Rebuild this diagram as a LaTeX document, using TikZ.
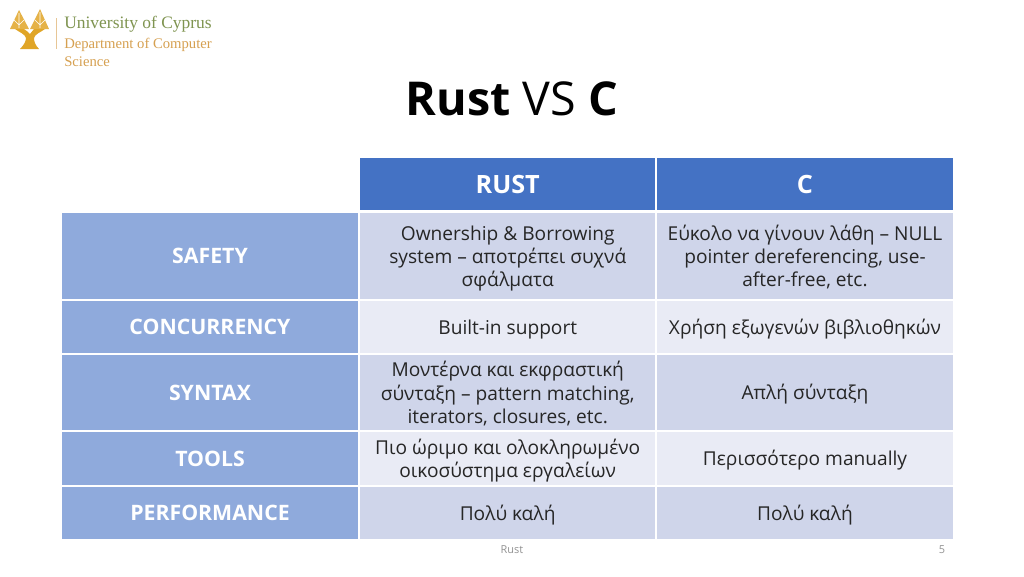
\documentclass[tikz,border=0pt]{standalone}
\usepackage{fontspec}
\setmainfont{Open Sans}
\newfontfamily\logofont{Liberation Serif}
\definecolor{hdr}{HTML}{4472C4}
\definecolor{side}{HTML}{8FAADC}
\definecolor{cellA}{HTML}{CFD5EA}
\definecolor{cellB}{HTML}{E9EBF5}
\definecolor{logoG}{HTML}{7F9450}
\definecolor{logoO}{HTML}{D6A050}
\definecolor{tree}{HTML}{E0A526}
\definecolor{ink}{HTML}{262626}
\newcommand{\mlines}[1]{\raisebox{-2.2pt}[\height][\depth]{\begin{tabular}{@{}c@{}}#1\end{tabular}}}
\tikzset{
 x=0.75pt,y=-0.75pt,
 cellbase/.style={anchor=north west,inner sep=0pt,outer sep=0pt,align=center,font=\fontsize{14.35}{17.3}\selectfont,text=ink},
 cellbox/.style={cellbase,execute at begin node={\rule{0pt}{14.2pt}}},
 multi/.style={cellbase},
 hdrcell/.style={cellbase,fill=hdr,text=white,font=\fontsize{18.9}{22}\selectfont\bfseries,minimum height=39pt,execute at begin node={\rule{0pt}{14.5pt}}},
 sidecell/.style={cellbase,fill=side,text=white,font=\fontsize{15.95}{18}\selectfont\bfseries,minimum width=222pt,execute at begin node={\rule{0pt}{12pt}}},
 wide/.style={minimum width=221.6pt},
 wider/.style={minimum width=222pt},
 logoU/.style={anchor=west,inner sep=0pt,text=logoG,font=\logofont\fontsize{13.1}{15}\selectfont},
 logoD/.style={anchor=west,inner sep=0pt,text=logoO,font=\logofont\fontsize{11}{13}\selectfont},
 foot/.style={inner sep=0pt,text=gray!85,font=\fontsize{8.2}{10}\selectfont}
}
\begin{document}
\begin{tikzpicture}
\useasboundingbox[fill=white] (0,0) rectangle (1024,576);
% logo
\fill[tree] (20,49) -- (39,49) .. controls (35,45) and (34,41) .. (34,38) .. controls (35,34) and (41,32) .. (45,29) -- (34,29) .. controls (33,31) and (31,32) .. (30,34) .. controls (29,32) and (26,31) .. (24,29) -- (15,29) .. controls (19,32) and (25,34) .. (26,38) .. controls (26,41) and (24,45) .. (20,49) -- cycle;
\fill[tree!85!white] (10,29) -- (19,10) -- (29,29) -- cycle;
\fill[tree!85!white] (30,29) -- (40,9) -- (49,29) -- cycle;
\draw[white,line width=.5pt] (19,13) -- (19,28) (14,20) -- (19,25) -- (24,20) (40,12) -- (40,28) (35,20) -- (40,25) -- (45,20);
\draw[logoO!60,line width=.5pt] (56.5,18) -- (56.5,49);
\node[logoU] (l1) at (64,24) {University of Cyprus};
\node[logoD] (l2) at (64,45) {Department of Computer};
\node[logoD] (l3) at (64,62) {Science};
% title
\node[inner sep=0pt,text=black,font=\fontsize{35}{40}\selectfont] (title) at (512,99) {\textbf{Rust} VS \textbf{C}};
% header
\node[hdrcell,wide] (h1) at (360,158) {RUST};
\node[hdrcell,wider] (h2) at (657,158) {C};
% rows
\node[sidecell,minimum height=64.5pt] (s1) at (62,213) {SAFETY};
\node[sidecell,minimum height=39pt] (s2) at (62,301) {CONCURRENCY};
\node[sidecell,minimum height=56.25pt] (s3) at (62,355) {SYNTAX};
\node[sidecell,minimum height=39.75pt] (s4) at (62,432) {TOOLS};
\node[sidecell,minimum height=39pt] (s5) at (62,487) {PERFORMANCE};
\node[multi,wide,fill=cellA,minimum height=64.5pt] (a1) at (360,213) {\mlines{Ownership \& Borrowing\\system – αποτρέπει συχνά\\σφάλματα}};
\node[multi,wider,fill=cellA,minimum height=64.5pt] (b1) at (657,213) {\mlines{Εύκολο να γίνουν λάθη – NULL\\pointer dereferencing, use-\\after-free, etc.}};
\node[cellbox,wide,fill=cellB,minimum height=39pt] (a2) at (360,301) {Built-in support};
\node[cellbox,wider,fill=cellB,minimum height=39pt] (b2) at (657,301) {Χρήση εξωγενών βιβλιοθηκών};
\node[multi,wide,fill=cellA,minimum height=56.25pt] (a3) at (360,355) {\mlines{Μοντέρνα και εκφραστική\\σύνταξη – pattern matching,\\iterators, closures, etc.}};
\node[cellbox,wider,fill=cellA,minimum height=56.25pt] (b3) at (657,355) {Απλή σύνταξη};
\node[multi,wide,fill=cellB,minimum height=39.75pt] (a4) at (360,432) {\mlines{Πιο ώριμο και ολοκληρωμένο\\οικοσύστημα εργαλείων}};
\node[cellbox,wider,fill=cellB,minimum height=39.75pt] (b4) at (657,432) {Περισσότερο manually};
\node[cellbox,wide,fill=cellA,minimum height=39pt] (a5) at (360,487) {Πολύ καλή};
\node[cellbox,wider,fill=cellA,minimum height=39pt] (b5) at (657,487) {Πολύ καλή};
% footer
\node[foot] (f1) at (512,550) {Rust};
\node[foot] (f2) at (942,550) {5};
\end{tikzpicture}
\end{document}
